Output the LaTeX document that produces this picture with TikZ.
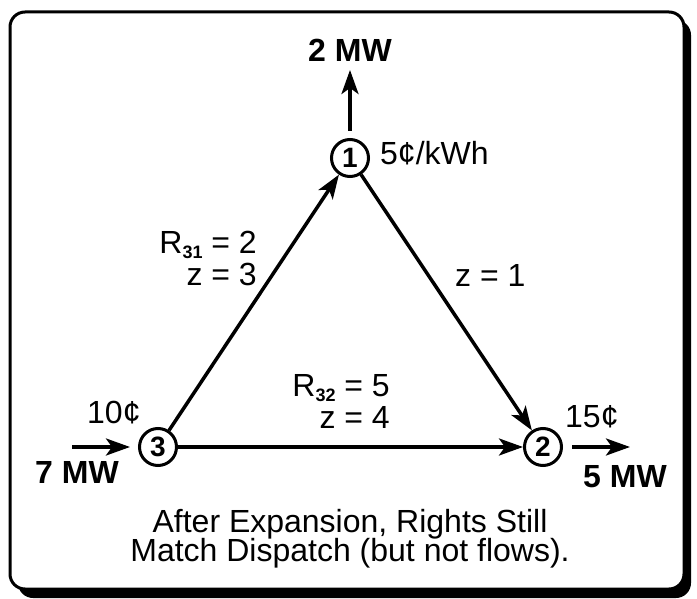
\documentclass[tikz,border=0pt]{standalone}
\usepackage{fontspec}
\setmainfont{Liberation Sans}
\usetikzlibrary{arrows.meta}
\newcommand{\subnum}[1]{\raisebox{-5pt}[\height][0pt]{\fontsize{18}{18}\selectfont\bfseries #1}}
\begin{document}
\begin{tikzpicture}[x=1pt,y=-1pt,
  lbl/.style={inner sep=0pt, font=\fontsize{32}{30}\selectfont},
  blbl/.style={inner sep=0pt, font=\fontsize{32}{30}\selectfont\bfseries},
  pair/.style={inner sep=0pt, align=right, font=\fontsize{32}{32}\selectfont},
  bus/.style={circle, draw, line width=3pt, minimum size=37pt, inner sep=0pt,
    font=\fontsize{28}{28}\selectfont\bfseries},
  flow/.style={line width=3.5pt, -{Stealth[length=24pt,width=17pt,inset=6pt]}},
  frame/.style={line width=3pt, fill=white, rounded corners=15pt},
  shadow/.style={fill=black, rounded corners=15pt},
]
\useasboundingbox (0,0) rectangle (697,599);
% frame with shadow
\path[shadow] (18,20) rectangle (691,598);
\path[frame,draw] (10,12) rectangle (684,589);

% buses
\node[bus] (n1) at (350,158) {1};
\node[bus] (n3) at (158,447) {3};
\node[bus] (n2) at (543,447) {2};

% external coordinates
\coordinate (top) at (350,70);
\coordinate (in) at (72,447);
\coordinate (out) at (630,447);

% connectors
\draw[flow] (n3) -- (n1);
\draw[flow] (n1) -- (n2);
\draw[flow] (n3) -- (n2);
\draw[flow, shorten <=7pt] (n1.north) -- (top);
\draw[flow, shorten >=8pt] (in) -- (n3.west);
\draw[flow, shorten <=9pt] (n2.east) -- (out);

% labels
\node[blbl, anchor=base] (l2mw) at (350,62) {2 MW};
\node[lbl, anchor=base west] (lp1) at (380,165) {5¢/kWh};
\node[pair, anchor=base east] (l31) at (257,285) {R\subnum{31} = 2\\z = 3};
\node[lbl, anchor=base west] (lz1) at (455,287) {z = 1};
\node[pair, anchor=base east] (l32) at (390,428) {R\subnum{32} = 5\\z = 4};
\node[lbl, anchor=base west] (lp3) at (87,423) {10¢};
\node[blbl, anchor=base west] (l7mw) at (35,483) {7 MW};
\node[lbl, anchor=base west] (lp2) at (565,427) {15¢};
\node[blbl, anchor=base west] (l5mw) at (583,487) {5 MW};
\node[lbl, anchor=base] (note1) at (350,532) {After Expansion, Rights Still};
\node[lbl, anchor=base] (note2) at (350,561) {Match Dispatch (but not flows).};
\end{tikzpicture}
\end{document}
